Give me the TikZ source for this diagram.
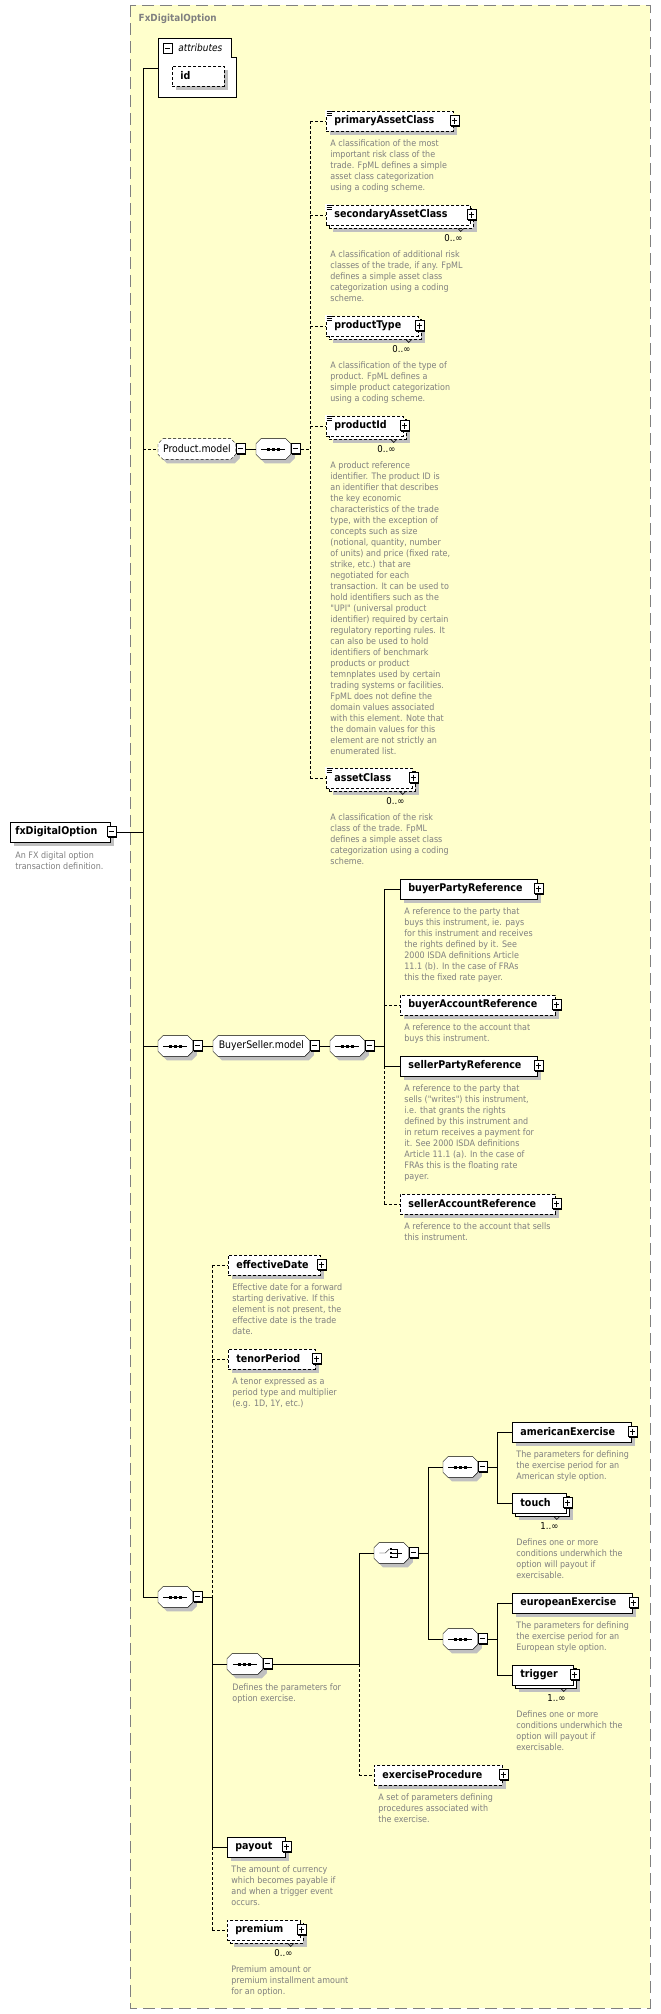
\documentclass[tikz,border=0pt]{standalone}
\usepackage{fontspec}
\usepackage{tikz}
\usetikzlibrary{calc,shadows}
\newfontfamily\dfont{DejaVu Sans}[FakeStretch=0.9]
\newcommand\namefont{\dfont\bfseries\fontsize{10.6}{12}\selectfont}
\newcommand\descfont{\dfont\fontsize{8.9}{11}\selectfont}
\newcommand\multfont{\dfont\fontsize{9.5}{11}\selectfont}
\newcommand\compfont{\dfont\fontsize{10.4}{12}\selectfont}
\newcommand\titlefont{\dfont\bfseries\fontsize{9.8}{11}\selectfont}
\newcommand\attrfont{\dfont\itshape\fontsize{10}{12}\selectfont}
\newcommand\octpath[2]{($(#1.north west)+(5+#2,#2)$) -- ($(#1.north east)+(-5+#2,#2)$) -- ($(#1.north east)+(#2,5+#2)$) -- ($(#1.south east)+(#2,-5+#2)$) -- ($(#1.south east)+(-5+#2,#2)$) -- ($(#1.south west)+(5+#2,#2)$) -- ($(#1.south west)+(#2,-5+#2)$) -- ($(#1.north west)+(#2,5+#2)$) -- cycle}
\hyphenpenalty=10000
\definecolor{bgyellow}{HTML}{FFFFCC}
\definecolor{framegray}{HTML}{808080}
\definecolor{shadowgray}{HTML}{C0C0C0}
\definecolor{descgray}{HTML}{808080}
\pgfdeclarelayer{back}
\pgfsetlayers{back,main}
\tikzset{
  opt/.style={dash pattern=on 3pt off 2pt},
  boxshadow/.style={drop shadow={shadow xshift=4pt,shadow yshift=-4pt,opacity=1,fill=shadowgray}},
  stacked/.style={drop shadow={shadow xshift=7pt,shadow yshift=-7pt,opacity=1,fill=shadowgray},
    copy shadow={shadow xshift=3pt,shadow yshift=-3pt,opacity=1,draw=black,fill=white,#1}},
  stacked/.default=solid,
  elem/.style={draw,fill=white,anchor=west,font=\namefont,text width=#1,minimum height=20pt,
    inner xsep=8pt,inner ysep=0pt,align=left},
  comp/.style={rectangle,anchor=west,minimum width=#1,minimum height=20pt,inner sep=0pt,font=\compfont},
  comp/.default=34pt,
  desc/.style={anchor=north west,inner sep=0pt,align=left,font=\descfont,text=descgray},
  mult/.style={anchor=north east,inner sep=0pt,font=\multfont},
  pics/plusbtn/.style={code={
    \fill (-3,-4.5) rectangle (6,5.5);
    \filldraw[fill=white] (-4,-5.5) rectangle (5,4.5);
    \draw (-2,-0.5) -- (3,-0.5) (0.5,-3.5) -- (0.5,2.5);
  }},
  pics/minusbtn/.style={code={
    \fill (-3,-4.5) rectangle (6,5.5);
    \filldraw[fill=white] (-4,-5.5) rectangle (5,4.5);
    \draw (-2,-0.5) -- (3,-0.5);
  }},
  pics/listmark/.style={code={
    \fill[white] (-1,-1) rectangle (6,6);
    \draw[line width=0.6pt] (0.5,0.5) -- (5.5,0.5) (0.5,2.5) -- (5.5,2.5) (0.5,4.5) -- (5.5,4.5);
  }},
  pics/seqmark/.style={code={
    \draw (-12,0) -- (12,0);
    \foreach \i in {-5,0,5} \fill (\i-1.5,-1.5) rectangle (\i+1.5,1.5);
  }},
  pics/choicemark/.style={code={
    \draw (-12,0) -- (-6,0) -- (-2,-4);
    \foreach \i in {-4,0,4} \fill (-1.5,\i-1.3) rectangle (1,\i+1.3);
    \draw (1,-4) -- (6,-4) -- (6,4) -- (1,4) (1,0) -- (11,0);
  }}
}
\begin{document}
\begin{tikzpicture}[x=1pt,y=-1pt,line width=0.8pt]
\useasboundingbox (0,0) rectangle (661,2014);
\node[anchor=west,font=\titlefont,text=framegray] (title) at (135,19) {FxDigitalOption};

% attributes
\node[minimum width=78pt,minimum height=59pt,inner sep=0pt,anchor=north west] (attr) at (158,38) {};
\draw[fill=white] (attr.north west) -- ++(73,0) -- ++(0,19) -- ++(5,0) |- (attr.south west) -- cycle;
\node[anchor=west,inner sep=0pt,font=\attrfont] (attrlbl) at (178,48) {attributes};
\node[elem=36pt,opt,boxshadow] (idattr) at (172,76) {id};

% root
\node[elem=90pt,inner xsep=5pt,boxshadow] (root) at (10,832) {fxDigitalOption};
\node[desc] (rootd) at ($(root.south west)+(5,9)$) {An FX digital option\\transaction definition.};

% Product.model
\node[comp=77pt] (pm) at (158,449) {Product.model};
\node[comp] (seqP) at (256,449) {};
\node[elem=111pt,opt,boxshadow] (pac) at (326,121) {primaryAssetClass};
\node[elem=128pt,opt,stacked=opt] (sac) at (326,215) {secondaryAssetClass};
\node[elem=76pt,opt,stacked=opt] (ptype) at (326,326) {productType};
\node[elem=61pt,opt,stacked=opt] (pid) at (326,426) {productId};
\node[elem=70pt,opt,stacked=opt] (ac) at (326,778) {assetClass};
\node[desc] (pacd) at ($(pac.south west)+(4,8)$) {A classification of the most\\important risk class of the\\trade. FpML defines a simple\\asset class categorization\\using a coding scheme.};
\node[desc] (sacd) at ($(sac.south west)+(4,25)$) {A classification of additional risk\\classes of the trade, if any. FpML\\defines a simple asset class\\categorization using a coding\\scheme.};
\node[desc] (ptyped) at ($(ptype.south west)+(4,25)$) {A classification of the type of\\product. FpML defines a\\simple product categorization\\using a coding scheme.};
\node[desc] (pidd) at ($(pid.south west)+(4,25)$) {A product reference\\identifier. The product ID is\\an identifier that describes\\the key economic\\characteristics of the trade\\type, with the exception of\\concepts such as size\\(notional, quantity, number\\of units) and price (fixed rate,\\strike, etc.) that are\\negotiated for each\\transaction. It can be used to\\hold identifiers such as the\\"UPI" (universal product\\identifier) required by certain\\regulatory reporting rules. It\\can also be used to hold\\identifiers of benchmark\\products or product\\temnplates used by certain\\trading systems or facilities.\\FpML does not define the\\domain values associated\\with this element. Note that\\the domain values for this\\element are not strictly an\\enumerated list.};
\node[desc] (acd) at ($(ac.south west)+(4,25)$) {A classification of the risk\\class of the trade. FpML\\defines a simple asset class\\categorization using a coding\\scheme.};

% BuyerSeller.model
\node[comp] (seqB) at (158,1046) {};
\node[comp=96pt] (bsm) at (213,1046) {BuyerSeller.model};
\node[comp] (seqB2) at (330,1046) {};
\node[elem=121pt,boxshadow] (bpr) at (400,889) {buyerPartyReference};
\node[elem=139pt,opt,boxshadow] (bar) at (400,1005) {buyerAccountReference};
\node[elem=121pt,boxshadow] (spr) at (400,1066) {sellerPartyReference};
\node[elem=139pt,opt,boxshadow] (sar) at (400,1204) {sellerAccountReference};
\node[desc] (bprd) at ($(bpr.south west)+(4,8)$) {A reference to the party that\\buys this instrument, ie. pays\\for this instrument and receives\\the rights defined by it. See\\2000 ISDA definitions Article\\11.1 (b). In the case of FRAs\\this the fixed rate payer.};
\node[desc] (bard) at ($(bar.south west)+(4,8)$) {A reference to the account that\\buys this instrument.};
\node[desc] (sprd) at ($(spr.south west)+(4,8)$) {A reference to the party that\\sells ("writes") this instrument,\\i.e. that grants the rights\\defined by this instrument and\\in return receives a payment for\\it. See 2000 ISDA definitions\\Article 11.1 (a). In the case of\\FRAs this is the floating rate\\payer.};
\node[desc] (sard) at ($(sar.south west)+(4,8)$) {A reference to the account that sells\\this instrument.};

% option part
\node[comp] (seqM) at (158,1597) {};
\node[elem=76pt,opt,boxshadow] (effd) at (228,1265) {effectiveDate};
\node[elem=71pt,opt,boxshadow] (tenor) at (228,1359) {tenorPeriod};
\node[comp=35pt] (seqE) at (227,1664) {};
\node[comp] (choice) at (374,1553) {};
\node[comp] (seqA) at (443,1467) {};
\node[comp] (seqU) at (443,1639) {};
\node[elem=103pt,boxshadow] (amer) at (512,1432) {americanExercise};
\node[elem=38pt,stacked] (touch) at (512,1503) {touch};
\node[elem=104pt,boxshadow] (euro) at (512,1603) {europeanExercise};
\node[elem=45pt,stacked] (trig) at (512,1675) {trigger};
\node[elem=112pt,opt,boxshadow] (exproc) at (374,1775) {exerciseProcedure};
\node[elem=42pt,boxshadow] (payout) at (227,1847) {payout};
\node[elem=57pt,opt,stacked=opt] (prem) at (227,1930) {premium};
\node[desc] (effdd) at ($(effd.south west)+(4,8)$) {Effective date for a forward\\starting derivative. If this\\element is not present, the\\effective date is the trade\\date.};
\node[desc] (tenord) at ($(tenor.south west)+(4,8)$) {A tenor expressed as a\\period type and multiplier\\(e.g. 1D, 1Y, etc.)};
\node[desc] (seqEd) at ($(seqE.south west)+(5,9)$) {Defines the parameters for\\option exercise.};
\node[desc] (amerd) at ($(amer.south west)+(4,8)$) {The parameters for defining\\the exercise period for an\\American style option.};
\node[desc] (touchd) at ($(touch.south west)+(4,25)$) {Defines one or more\\conditions underwhich the\\option will payout if\\exercisable.};
\node[desc] (eurod) at ($(euro.south west)+(4,8)$) {The parameters for defining\\the exercise period for an\\European style option.};
\node[desc] (trigd) at ($(trig.south west)+(4,25)$) {Defines one or more\\conditions underwhich the\\option will payout if\\exercisable.};
\node[desc] (exprocd) at ($(exproc.south west)+(4,8)$) {A set of parameters defining\\procedures associated with\\the exercise.};
\node[desc] (payoutd) at ($(payout.south west)+(4,8)$) {The amount of currency\\which becomes payable if\\and when a trigger event\\occurs.};
\node[desc] (premd) at ($(prem.south west)+(4,25)$) {Premium amount or\\premium installment amount\\for an option.};

\foreach \n/\m in {sac/0,ptype/0,pid/0,ac/0,touch/1,trig/1,prem/0} {
  \node[mult] (\n-m) at ($(\n.south east)+(-8,9)$) {\m..∞};
  \draw[line width=0.6pt] ($(\n.south east)+(-13,3)$) -- ++(3,3) -- ++(3,-3);
}

% frame and compositor outlines behind everything
\begin{pgfonlayer}{back}
\filldraw[fill=bgyellow,draw=framegray,dash pattern=on 12pt off 6pt] (130,5) rectangle (650,2008);
\foreach \n/\s in {pm/opt,seqP/solid,seqB/solid,bsm/solid,seqB2/solid,seqM/solid,seqE/solid,choice/solid,seqA/solid,seqU/solid} {
  \fill[shadowgray] \octpath{\n}{4};
  \draw[fill=white,\s] \octpath{\n}{0};
}
\end{pgfonlayer}

% connectors
\coordinate (t1) at (143,0);
\coordinate (t2) at (310,0);
\coordinate (t3) at (384,0);
\coordinate (t4) at (212,0);
\coordinate (t5) at (359,0);
\coordinate (t6) at (428,0);
\coordinate (t7) at (497,0);

\draw (attr.west -| t1) -- (seqM.west -| t1);
\draw (attr.west -| t1) -- (attr.west);
\draw[opt] (pm.west -| t1) -- (pm.west);
\draw (root.east) -- (root.east -| t1);
\draw (seqB.west -| t1) -- (seqB.west);
\draw (seqM.west -| t1) -- (seqM.west);

\draw (pm.east) -- (seqP.west);
\draw[opt] (seqP.east) -- (seqP.east -| t2);
\draw[opt] (pac.west -| t2) -- (ac.west -| t2);
\foreach \n in {pac,sac,ptype,pid,ac}
  \draw[opt] (\n.west -| t2) -- (\n.west);

\draw (seqB.east) -- (bsm.west);
\draw (bsm.east) -- (seqB2.west);
\draw (seqB2.east) -- (seqB2.east -| t3);
\draw (bpr.west -| t3) -- (spr.west -| t3);
\draw[opt] (spr.west -| t3) -- (sar.west -| t3);
\draw (bpr.west -| t3) -- (bpr.west);
\draw[opt] (bar.west -| t3) -- (bar.west);
\draw (spr.west -| t3) -- (spr.west);
\draw[opt] (sar.west -| t3) -- (sar.west);

\draw (seqM.east) -- (seqM.east -| t4);
\draw[opt] (effd.west -| t4) -- (seqM.east -| t4);
\draw (seqM.east -| t4) -- (payout.west -| t4);
\draw[opt] (payout.west -| t4) -- (prem.west -| t4);
\draw[opt] (effd.west -| t4) -- (effd.west);
\draw[opt] (tenor.west -| t4) -- (tenor.west);
\draw (seqE.west -| t4) -- (seqE.west);
\draw (payout.west -| t4) -- (payout.west);
\draw[opt] (prem.west -| t4) -- (prem.west);

\draw (seqE.east) -- (seqE.east -| t5);
\draw (choice.west -| t5) -- (seqE.east -| t5);
\draw[opt] (seqE.east -| t5) -- (exproc.west -| t5);
\draw (choice.west -| t5) -- (choice.west);
\draw[opt] (exproc.west -| t5) -- (exproc.west);

\draw (choice.east) -- (choice.east -| t6);
\draw (seqA.west -| t6) -- (seqU.west -| t6);
\draw (seqA.west -| t6) -- (seqA.west);
\draw (seqU.west -| t6) -- (seqU.west);

\draw (seqA.east) -- (seqA.east -| t7);
\draw (amer.west -| t7) -- (touch.west -| t7);
\draw (amer.west -| t7) -- (amer.west);
\draw (touch.west -| t7) -- (touch.west);
\draw (seqU.east) -- (seqU.east -| t7);
\draw (euro.west -| t7) -- (trig.west -| t7);
\draw (euro.west -| t7) -- (euro.west);
\draw (trig.west -| t7) -- (trig.west);

% icons
\foreach \n in {seqP,seqB,seqB2,seqM,seqE,seqA,seqU}
  \pic at (\n.center) {seqmark};
\pic at (choice.center) {choicemark};
\foreach \n in {pac,sac,ptype,pid,ac}
  \pic at (\n.north west) {listmark};
\foreach \n in {pac,sac,ptype,pid,ac,bpr,bar,spr,sar,effd,tenor,amer,touch,euro,trig,exproc,payout,prem}
  \pic at (\n.east) {plusbtn};
\foreach \n in {pm,seqP,seqB,bsm,seqB2,seqM,seqE,choice,seqA,seqU}
  \pic at ($(\n.east)+(4,0)$) {minusbtn};
\pic at (root.east) {minusbtn};
\pic at ($(attr.north west)+(9,10.5)$) {minusbtn};
\end{tikzpicture}
\end{document}
